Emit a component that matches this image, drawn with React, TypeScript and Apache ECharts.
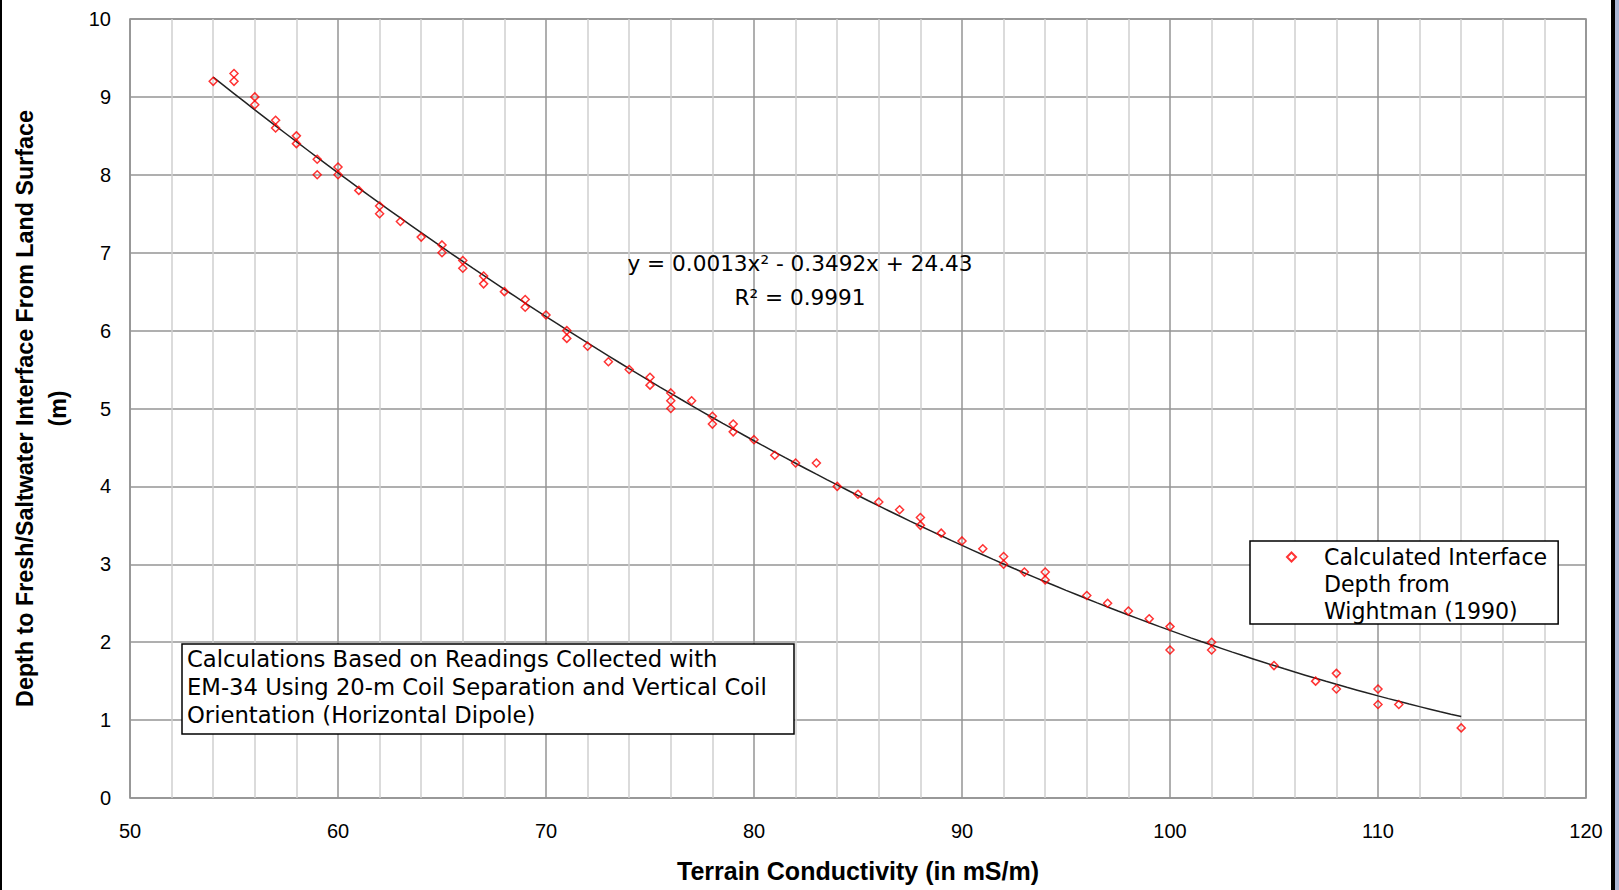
import React, { useEffect, useRef } from "react";
import * as echarts from "echarts";

// Terrain conductivity (mS/m) of each calculated point
const conductivity = [
  54, 55, 55, 56, 56, 57, 57, 58, 58, 59, 59, 60, 60, 61, 62, 62, 63, 64, 65, 65,
  66, 66, 67, 67, 68, 69, 69, 70, 71, 71, 72, 73, 74, 75, 75, 76, 76, 76, 77, 78,
  78, 79, 79, 80, 81, 82, 83, 84, 85, 86, 87, 88, 88, 89, 90, 91, 92, 92, 93, 94,
  94, 96, 97, 98, 99, 100, 100, 102, 102, 105, 107, 108, 108, 110, 110, 111, 114,
];
// Depth to fresh/saltwater interface (m)
const depth = [
  9.2, 9.3, 9.2, 9.0, 8.9, 8.7, 8.6, 8.5, 8.4, 8.2, 8.0, 8.1, 8.0, 7.8, 7.6, 7.5, 7.4, 7.2, 7.1, 7.0,
  6.9, 6.8, 6.7, 6.6, 6.5, 6.4, 6.3, 6.2, 6.0, 5.9, 5.8, 5.6, 5.5, 5.4, 5.3, 5.2, 5.1, 5.0, 5.1, 4.9,
  4.8, 4.8, 4.7, 4.6, 4.4, 4.3, 4.3, 4.0, 3.9, 3.8, 3.7, 3.6, 3.5, 3.4, 3.3, 3.2, 3.1, 3.0, 2.9, 2.9,
  2.8, 2.6, 2.5, 2.4, 2.3, 2.2, 1.9, 2.0, 1.9, 1.7, 1.5, 1.6, 1.4, 1.4, 1.2, 1.2, 0.9,
];

const seriesName = "Calculated Interface Depth from Wightman (1990)";
const legendLines = ["Calculated Interface", "Depth from", "Wightman (1990)"];
const noteLines = [
  "Calculations Based on Readings Collected with",
  "EM-34 Using 20-m Coil Separation and Vertical Coil",
  "Orientation (Horizontal Dipole)",
];
const equationText = "y = 0.0013x\u00B2 - 0.3492x + 24.43";
const r2Text = "R\u00B2 = 0.9991";
const xTitle = "Terrain Conductivity (in mS/m)";
const yTitle = "Depth to Fresh/Saltwater Interface From Land Surface\n(m)";

// Least-squares quadratic fit (as the spreadsheet trendline does)
function fitQuadratic(xs: number[], ys: number[]): number[] {
  const S = [0, 0, 0, 0, 0];
  const T = [0, 0, 0];
  for (let i = 0; i < xs.length; i++) {
    let p = 1;
    for (let k = 0; k < 5; k++) {
      S[k] += p;
      if (k < 3) T[k] += p * ys[i];
      p *= xs[i];
    }
  }
  const M = [
    [S[0], S[1], S[2], T[0]],
    [S[1], S[2], S[3], T[1]],
    [S[2], S[3], S[4], T[2]],
  ];
  for (let c = 0; c < 3; c++) {
    let piv = c;
    for (let r = c + 1; r < 3; r++) if (Math.abs(M[r][c]) > Math.abs(M[piv][c])) piv = r;
    [M[c], M[piv]] = [M[piv], M[c]];
    for (let r = 0; r < 3; r++) {
      if (r === c) continue;
      const f = M[r][c] / M[c][c];
      for (let k = c; k < 4; k++) M[r][k] -= f * M[c][k];
    }
  }
  return [M[0][3] / M[0][0], M[1][3] / M[1][1], M[2][3] / M[2][2]]; // c, b, a
}

export default function App() {
  const ref = useRef<HTMLDivElement>(null);
  useEffect(() => {
    if (!ref.current) return;
    const chart = echarts.init(ref.current, null, { renderer: "svg" });
    const [c0, c1, c2] = fitQuadratic(conductivity, depth);
    const xMin = Math.min(...conductivity);
    const xMax = Math.max(...conductivity);
    const trend: number[][] = [];
    const steps = 120;
    for (let i = 0; i <= steps; i++) {
      const x = xMin + ((xMax - xMin) * i) / steps;
      trend.push([x, c0 + c1 * x + c2 * x * x]);
    }
    const points = conductivity.map((x, i) => [x, depth[i]]);
    const textFont = "'DejaVu Sans', 'Liberation Sans', sans-serif";
    const axisFont = "'Liberation Sans', Arial, sans-serif";

    chart.setOption({
      animation: false,
      backgroundColor: "#fff",
      grid: {
        left: 130,
        right: 33,
        top: 19,
        bottom: 92,
        show: true,
        borderColor: "#858585",
        borderWidth: 1.5,
        outerBoundsMode: "none",
      },
      xAxis: {
        type: "value",
        min: 50,
        max: 120,
        interval: 10,
        name: xTitle,
        nameLocation: "middle",
        nameGap: 60,
        nameTextStyle: { fontFamily: axisFont, fontWeight: "bold", fontSize: 25, color: "#000" },
        axisLine: { show: false },
        axisTick: { show: false },
        axisLabel: { fontFamily: axisFont, fontSize: 20, color: "#000", margin: 23 },
        splitLine: { show: true, lineStyle: { color: "#959595", width: 1.5 } },
        minorTick: { show: false, splitNumber: 5 },
        minorSplitLine: { show: true, lineStyle: { color: "#cfcfcf", width: 1.5 } },
      },
      yAxis: {
        type: "value",
        min: 0,
        max: 10,
        interval: 1,
        name: yTitle,
        nameLocation: "middle",
        nameRotate: 90,
        nameGap: 56,
        nameTextStyle: {
          fontFamily: axisFont,
          fontWeight: "bold",
          fontSize: 23.3,
          lineHeight: 33,
          color: "#000",
        },
        axisLine: { show: false },
        axisTick: { show: false },
        axisLabel: { fontFamily: axisFont, fontSize: 20, color: "#000", margin: 19 },
        splitLine: { show: true, lineStyle: { color: "#959595", width: 1.5 } },
      },
      legend: {
        show: true,
        left: 1250,
        top: 541,
        orient: "vertical",
        data: [seriesName],
        formatter: () => legendLines.join("\n"),
        icon: "path://M4.5,0L9,4.5L4.5,9L0,4.5Z M32,62",
        itemWidth: 32,
        itemHeight: 62,
        padding: [2, 11, 0, 36],
        borderColor: "#000",
        borderWidth: 1.5,
        borderRadius: 0,
        backgroundColor: "#fff",
        textStyle: { fontFamily: textFont, fontSize: 22.1, lineHeight: 27, color: "#000" },
      },
      title: {
        text: noteLines.join("\n"),
        left: 182,
        top: 644,
        padding: [1, 28, 5, 5],
        borderColor: "#000",
        borderWidth: 1.5,
        backgroundColor: "#fff",
        textStyle: {
          fontFamily: textFont,
          fontSize: 22.7,
          lineHeight: 28,
          fontWeight: "normal",
          color: "#000",
        },
        z: 10,
      },
      graphic: [
        {
          type: "text",
          x: 800,
          y: 263,
          z: 10,
          style: {
            text: equationText,
            fontFamily: textFont,
            fontSize: 21.6,
            fill: "#000",
            align: "center",
            verticalAlign: "middle",
          },
        },
        {
          type: "text",
          x: 800,
          y: 297,
          z: 10,
          style: {
            text: r2Text,
            fontFamily: textFont,
            fontSize: 21.6,
            fill: "#000",
            align: "center",
            verticalAlign: "middle",
          },
        },
        { type: "rect", shape: { x: 0, y: 0, width: 2, height: 890 }, style: { fill: "#000" } },
        { type: "rect", shape: { x: 1611, y: 0, width: 4, height: 890 }, style: { fill: "#000" } },
        { type: "rect", shape: { x: 1615, y: 0, width: 4, height: 890 }, style: { fill: "#aab5d3" } },
      ],
      series: [
        {
          name: "Trendline",
          type: "line",
          data: trend,
          showSymbol: false,
          symbol: "none",
          smooth: false,
          lineStyle: { color: "#222", width: 1.5 },
          z: 3,
          silent: true,
        },
        {
          name: seriesName,
          type: "scatter",
          data: points,
          symbol: "diamond",
          symbolSize: 8,
          itemStyle: { color: "transparent", borderColor: "#ff0000", borderWidth: 1.5 },
          z: 4,
        },
      ],
    });
    return () => chart.dispose();
  }, []);
  return (
    <div
      ref={ref}
      style={{ position: "fixed", left: 0, top: 0, width: 1619, height: 890 }}
    />
  );
}
